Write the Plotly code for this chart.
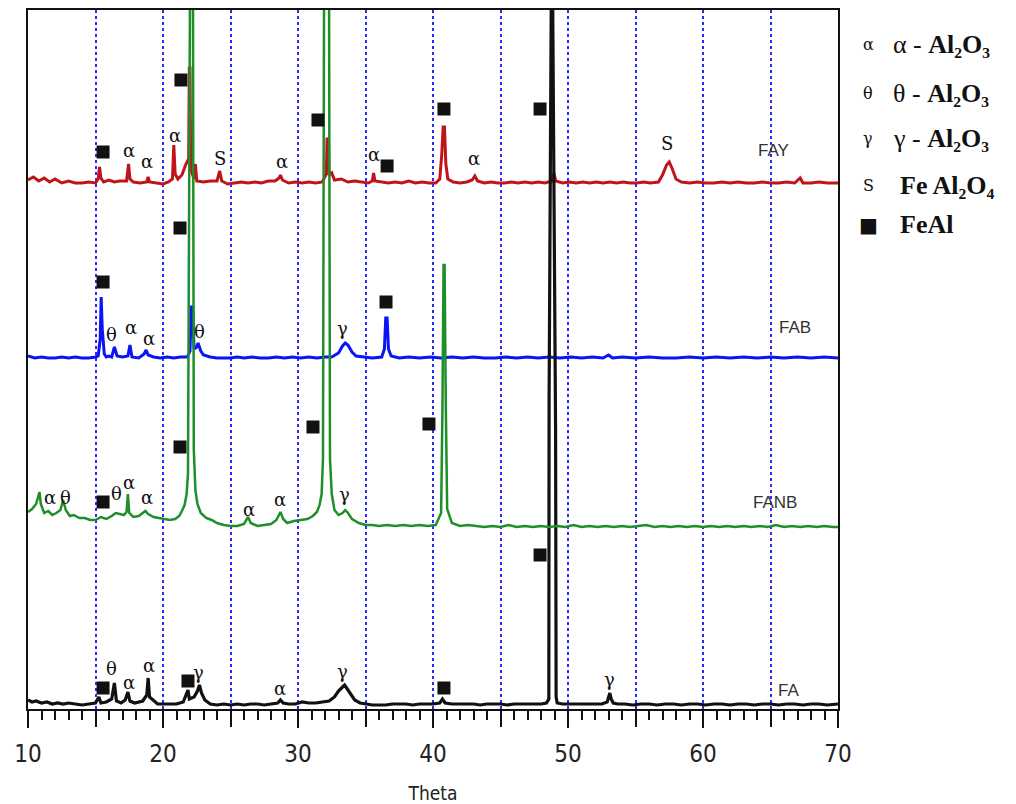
import plotly.graph_objects as go

# ---------------- data (theta, stacked intensity in arbitrary units) ----------------
fay_x = [10.0, 10.4, 10.8, 11.2, 11.6, 12.0, 12.5, 13.0, 13.5, 14.0, 14.5, 15.0, 15.2, 15.3, 15.4, 15.6,
         16.0, 16.4, 16.8, 17.3, 17.45, 17.55, 17.8, 18.3, 18.8, 18.9, 19.0, 19.5, 20.0, 20.4, 20.7, 20.8,
         20.9, 21.1, 21.4, 21.7, 21.9, 21.95, 22.0, 22.05, 22.3, 22.4, 22.5, 23.0, 23.5, 24.0, 24.2, 24.35,
         24.8, 25.3, 25.8, 26.3, 26.8, 27.3, 27.8, 28.3, 28.6, 28.7, 28.85, 29.3, 29.8, 30.3, 30.8, 31.3,
         31.8, 32.1, 32.15, 32.25, 32.3, 32.5, 32.7, 33.2, 33.7, 34.2, 34.7, 35.2, 35.5, 35.6, 35.7, 36.2,
         36.7, 37.2, 37.7, 38.2, 38.7, 39.2, 39.7, 40.2, 40.5, 40.65, 40.75, 40.85, 40.95, 41.1, 41.5, 42.0,
         42.5, 42.9, 43.1, 43.3, 43.8, 44.3, 44.8, 45.3, 45.8, 46.3, 46.8, 47.3, 47.8, 48.3, 48.8, 48.95,
         49.1, 49.6, 50.1, 50.6, 51.1, 51.6, 52.1, 52.6, 53.1, 53.6, 54.1, 54.6, 55.1, 55.6, 56.1, 56.7,
         57.0, 57.3, 57.5, 57.7, 58.0, 58.4, 59.0, 59.6, 60.2, 60.8, 61.4, 62.0, 62.6, 63.2, 63.8, 64.4,
         65.0, 65.6, 66.2, 66.8, 67.2, 67.4, 68.0, 68.6, 69.2, 70.0]
fay_y = [529, 532, 528, 531, 527, 530, 526, 528, 526, 526, 527, 526, 530, 542, 531, 527,
         529, 527, 528, 528, 545, 530, 527, 526, 527, 532, 527, 526, 525, 527, 530, 564,
         535, 530, 534, 545, 550, 641, 641, 540, 530, 545, 528, 527, 528, 528, 538, 528,
         525, 526, 527, 526, 527, 526, 528, 528, 531, 534, 529, 526, 527, 526, 527, 526,
         527, 535, 570, 570, 534, 536, 529, 530, 527, 528, 527, 526, 528, 536, 528, 527,
         526, 527, 526, 528, 526, 527, 526, 526, 530, 555, 582, 582, 545, 530, 527, 526,
         527, 529, 533, 528, 526, 527, 526, 526, 527, 526, 527, 526, 527, 526, 528, 536,
         528, 526, 527, 526, 527, 526, 527, 526, 527, 526, 527, 526, 526, 527, 526, 527,
         534, 544, 547, 541, 530, 527, 526, 527, 526, 526, 527, 526, 527, 526, 526, 527,
         526, 526, 527, 526, 531, 526, 526, 527, 526, 526]

fab_x = [10.0, 10.5, 11.0, 11.5, 12.0, 12.5, 13.0, 13.5, 14.0, 14.5, 15.0, 15.2, 15.35, 15.42, 15.5,
         15.55, 15.65, 15.8, 16.0, 16.2, 16.4, 16.6, 17.0, 17.4, 17.55, 17.7, 18.2, 18.6, 18.75, 18.9,
         19.3, 19.8, 20.3, 20.8, 21.3, 21.8, 22.0, 22.1, 22.2, 22.3, 22.5, 22.6, 22.8, 23.0, 23.5, 24.0,
         24.5, 25.0, 25.5, 26.0, 26.6, 27.2, 27.8, 28.4, 29.0, 29.6, 30.2, 30.8, 31.4, 32.0, 32.5, 33.0,
         33.3, 33.5, 33.7, 34.0, 34.3, 34.8, 35.5, 36.2, 36.4, 36.5, 36.6, 36.7, 36.9, 37.5, 38.2, 39.0,
         39.8, 40.6, 41.4, 42.2, 43.0, 43.8, 44.6, 45.4, 46.2, 47.0, 47.8, 48.6, 49.4, 50.2, 51.0, 51.8,
         52.6, 53.0, 53.3, 54.0, 55.0, 56.0, 57.0, 58.0, 59.0, 60.0, 61.0, 62.0, 63.0, 64.0, 65.0, 66.0,
         67.0, 68.0, 69.0, 70.0]
fab_y = [353, 351, 352, 351, 351, 352, 351, 352, 351, 351, 352, 353, 370, 412, 380,
         372, 355, 352, 353, 352, 362, 353, 352, 353, 364, 352, 351, 355, 359, 354,
         352, 351, 352, 351, 352, 352, 358, 402, 402, 360, 362, 366, 358, 354, 352, 351,
         351, 351, 352, 351, 352, 351, 351, 352, 351, 352, 351, 352, 351, 352, 352, 356,
         363, 366, 364, 357, 353, 352, 351, 352, 360, 391, 391, 360, 353, 351, 352, 351,
         352, 351, 352, 351, 352, 351, 351, 352, 351, 352, 351, 352, 351, 352, 351, 352,
         351, 354, 351, 352, 351, 352, 351, 351, 352, 351, 352, 351, 352, 351, 352, 351,
         352, 351, 352, 351]

fanb_x = [10.0, 10.3, 10.6, 10.85, 10.95, 11.2, 11.5, 11.8, 12.1, 12.4, 12.6, 12.8, 13.1, 13.4, 13.8,
          14.2, 14.6, 15.0, 15.4, 15.8, 16.2, 16.5, 16.8, 17.1, 17.3, 17.4, 17.5, 17.8, 18.2, 18.5,
          18.7, 18.9, 19.3, 19.7, 20.1, 20.5, 20.9, 21.2, 21.4, 21.6, 21.75, 21.85, 22.0, 22.22, 22.28,
          22.4, 22.55, 22.8, 23.2, 23.6, 24.0, 24.5, 25.0, 25.5, 26.0, 26.3, 26.5, 27.0, 27.5, 28.0,
          28.4, 28.7, 28.9, 29.2, 29.7, 30.2, 30.7, 31.1, 31.4, 31.6, 31.75, 31.85, 31.93, 32.3, 32.37,
          32.5, 32.7, 33.0, 33.3, 33.5, 33.7, 34.0, 34.5, 35.0, 35.5, 36.0, 36.6, 37.2, 37.8, 38.4,
          39.0, 39.6, 40.2, 40.6, 40.7, 40.78, 40.86, 40.95, 41.05, 41.4, 42.0, 42.6, 43.2, 43.8, 44.4,
          45.0, 45.6, 46.2, 46.8, 47.4, 48.0, 48.6, 49.2, 49.8, 50.4, 51.0, 51.6, 52.2, 52.8, 53.4,
          54.0, 54.6, 55.2, 55.8, 56.4, 57.0, 57.6, 58.2, 58.8, 59.4, 60.0, 60.6, 61.2, 61.8, 62.4,
          63.0, 63.6, 64.2, 64.8, 65.4, 66.0, 66.6, 67.2, 67.8, 68.4, 69.0, 69.6, 70.0]
fanb_y = [197, 200, 205, 217, 205, 196, 198, 194, 196, 199, 209, 199, 193, 194, 191,
          191, 189, 189, 192, 190, 193, 196, 195, 194, 197, 215, 196, 192, 193, 196,
          198, 195, 192, 191, 190, 189, 190, 193, 198, 204, 215, 235, 720, 720, 260,
          219, 205, 196, 191, 189, 186, 184, 183, 183, 185, 192, 186, 183, 184, 185,
          189, 197, 190, 186, 188, 189, 190, 193, 197, 204, 215, 250, 720, 720, 250,
          215, 199, 194, 196, 199, 196, 190, 186, 184, 184, 183, 184, 183, 184, 183,
          184, 183, 184, 196, 300, 444, 444, 300, 200, 186, 183, 184, 183, 182, 183,
          182, 184, 182, 183, 182, 183, 182, 183, 182, 184, 182, 183, 182, 183, 182,
          183, 182, 183, 184, 182, 183, 182, 183, 182, 183, 182, 183, 182, 183, 182,
          183, 182, 183, 182, 184, 182, 183, 182, 183, 182, 183, 182, 182]

fa_x = [10.0, 10.3, 10.6, 11.0, 11.4, 11.8, 12.2, 12.6, 13.0, 13.5, 14.0, 14.5, 15.0, 15.25, 15.4,
        15.8, 16.2, 16.4, 16.55, 16.9, 17.2, 17.4, 17.55, 17.9, 18.5, 18.8, 18.9, 19.0, 19.3, 19.6,
        20.0, 20.5, 21.0, 21.5, 21.85, 21.95, 22.3, 22.55, 22.7, 22.85, 23.1, 23.5, 24.0, 24.5, 25.0,
        25.5, 26.0, 26.5, 27.0, 27.5, 28.0, 28.5, 28.7, 28.9, 29.3, 29.8, 30.3, 30.8, 31.3, 31.8,
        32.3, 32.7, 33.0, 33.3, 33.45, 33.6, 33.9, 34.2, 34.6, 35.0, 35.5, 36.0, 36.5, 37.0, 37.5,
        38.0, 38.5, 39.0, 39.5, 40.0, 40.5, 40.7, 40.9, 41.4, 42.0, 42.5, 43.0, 43.5, 44.0, 44.5,
        45.0, 45.5, 46.0, 46.5, 47.0, 47.5, 48.0, 48.4, 48.58, 48.6, 48.78, 48.84, 49.08, 49.12, 49.2,
        49.6, 50.0, 50.5, 51.0, 51.5, 52.0, 52.5, 52.9, 53.0, 53.1, 53.2, 53.35, 53.7, 54.2, 54.8,
        55.4, 56.0, 56.6, 57.2, 57.8, 58.4, 59.0, 59.6, 60.2, 60.8, 61.4, 62.0, 62.6, 63.2, 63.8,
        64.4, 65.0, 65.6, 66.2, 66.8, 67.4, 68.0, 68.6, 69.2, 70.0]
fa_y = [9, 7, 8, 6, 7, 5, 6, 5, 6, 5, 4, 5, 6, 12, 6,
        7, 10, 26, 8, 6, 9, 17, 8, 6, 8, 14, 31, 12, 8, 5,
        5, 5, 5, 7, 19, 10, 12, 18, 24, 16, 9, 5, 4, 5, 4,
        5, 4, 5, 5, 4, 5, 6, 9, 6, 5, 5, 7, 6, 6, 7,
        8, 12, 18, 22, 24, 21, 15, 9, 6, 5, 4, 4, 4, 5, 5,
        5, 4, 5, 5, 5, 6, 10, 6, 5, 5, 5, 5, 4, 5, 5,
        5, 4, 5, 5, 5, 5, 5, 6, 10, 311, 760, 760, 279, 12, 6,
        5, 5, 5, 5, 5, 5, 5, 7, 12, 16, 10, 6, 5, 5, 4,
        5, 5, 4, 5, 5, 4, 5, 5, 4, 5, 5, 4, 5, 5, 4,
        5, 5, 4, 5, 5, 4, 5, 5, 4, 5]

# phase labels on the peaks: (symbol, theta, height)
phase_labels = [
    ("α", 17.48, 559), ("α", 18.81, 548), ("α", 20.89, 574), ("S", 24.2, 551), ("α", 28.85, 548),
    ("α", 35.6, 555), ("α", 43.04, 551), ("S", 57.33, 566),
    ("θ", 16.2, 375), ("α", 17.6, 382), ("α", 18.96, 371), ("θ", 22.74, 378), ("γ", 33.26, 381),
    ("α", 11.6, 212), ("θ", 12.81, 212), ("θ", 16.59, 216), ("α", 17.48, 227), ("α", 18.81, 212),
    ("α", 26.37, 200), ("α", 28.67, 210), ("γ", 33.48, 215),
    ("θ", 16.22, 41), ("α", 17.48, 27), ("α", 18.96, 44), ("γ", 22.66, 37), ("α", 28.67, 21),
    ("γ", 33.33, 38), ("γ", 53.04, 30),
]
# FeAl markers (theta, height)
feal_x = [15.56, 21.33, 31.48, 36.6, 40.81, 47.93, 15.56, 21.26, 36.52, 15.56, 21.26, 31.11, 39.7,
          15.56, 21.85, 40.81, 47.93]
feal_y = [557, 629, 589, 543, 600, 600, 427, 481, 407, 207, 262, 282, 285, 21, 28, 21, 154]

sample_names = ["FAY", "FAB", "FANB", "FA"]
sample_label_x = [65.19, 66.81, 65.33, 66.3]
sample_label_y = [559, 382, 207, 19]

legend_symbols = ["α", "θ", "γ", "S", "■"]
legend_texts = ["α - <b>Al₂O₃</b>", "θ - <b>Al₂O₃</b>", "γ - <b>Al₂O₃</b>",
                "<b>Fe Al₂O₄</b>", "<b>FeAl</b>"]

label_ticks = [10, 20, 30, 40, 50, 60, 70]
grid_ticks = [10, 15, 20, 25, 30, 35, 40, 45, 50, 55, 60, 65, 70]

# ---------------- figure ----------------
fig = go.Figure()
series = [
    (fay_x, fay_y, "#c0141c", 3),
    (fab_x, fab_y, "#0a14f5", 3),
    (fa_x, fa_y, "#111111", 3.2),
    (fanb_x, fanb_y, "#1f8f2a", 2.5),
]
for xs, ys, col, w in series:
    fig.add_trace(go.Scatter(x=xs, y=ys, mode="lines", line=dict(color=col, width=w),
                             showlegend=False, hoverinfo="skip"))

fig.add_trace(go.Scatter(x=feal_x, y=feal_y, mode="markers",
                         marker=dict(symbol="square", size=13, color="#111111"),
                         showlegend=False, hoverinfo="skip", cliponaxis=False))

for sym, xv, yv in phase_labels:
    fig.add_annotation(x=xv, y=yv, text=sym, showarrow=False,
                       font=dict(family="DejaVu Serif, Liberation Serif, serif", size=18, color="#111"))

for name, xv, yv in zip(sample_names, sample_label_x, sample_label_y):
    fig.add_annotation(x=xv, y=yv, text=name, showarrow=False,
                       font=dict(family="Liberation Sans, Arial, sans-serif", size=17, color="#333"))

leg_py = [44, 93, 139, 185, 225]
for i, (sym, txt) in enumerate(zip(legend_symbols, legend_texts)):
    yp = (709 - leg_py[i]) / 699
    fig.add_annotation(xref="paper", yref="paper", x=(868 - 28) / 810, y=yp, text=sym,
                       showarrow=False, xanchor="center", yanchor="middle",
                       font=dict(family="DejaVu Serif, Liberation Serif, serif",
                                 size=20 if sym == "■" else 16, color="#111"))
    tx = 891 if i < 3 else 898
    fig.add_annotation(xref="paper", yref="paper", x=(tx - 28) / 810, y=yp, text=txt,
                       showarrow=False, xanchor="left", yanchor="middle",
                       font=dict(family="Liberation Serif, DejaVu Serif, serif", size=26, color="#111"))

# the html body adds an 8px margin, so the figure is 8px smaller and margins shifted
fig.update_layout(
    width=1008, height=796,
    margin=dict(l=20, r=178, t=2, b=95, pad=0),
    paper_bgcolor="white", plot_bgcolor="white",
    hovermode=False,
    xaxis=dict(range=[10, 70], tickvals=label_ticks,
               ticks="outside", ticklen=17, tickwidth=2, tickcolor="#111",
               showline=True, linecolor="#111", linewidth=2, mirror=True,
               showgrid=False, automargin=False, ticklabelstandoff=5,
               tickfont=dict(family="Liberation Sans Narrow, DejaVu Sans Condensed, sans-serif",
                             size=24, color="#222"),
               title=dict(text="Theta", standoff=24,
                          font=dict(family="Liberation Sans Narrow, DejaVu Sans Condensed, sans-serif",
                                    size=19, color="#222")),
               zeroline=False),
    xaxis2=dict(range=[10, 70], overlaying="x", anchor="y", side="bottom", matches="x",
                tickvals=grid_ticks, showticklabels=False,
                ticks="outside", ticklen=17, tickwidth=2, tickcolor="#111",
                showgrid=True, gridcolor="#2a2aff", griddash="dot", gridwidth=2,
                minor=dict(dtick=1, ticks="outside", ticklen=10, tickwidth=1.5, tickcolor="#111",
                           showgrid=False),
                showline=False, zeroline=False, automargin=False),
    yaxis=dict(range=[0, 699], showticklabels=False, ticks="", showgrid=False, zeroline=False,
               showline=True, linecolor="#111", linewidth=2, mirror=True, automargin=False),
)
# an invisible trace on the second x axis so that its grid and ticks are drawn
fig.add_trace(go.Scatter(x=[grid_ticks[0]], y=[fa_y[0]], xaxis="x2", mode="markers",
                         marker=dict(opacity=0), showlegend=False, hoverinfo="skip"))

fig.write_html("out.html")
